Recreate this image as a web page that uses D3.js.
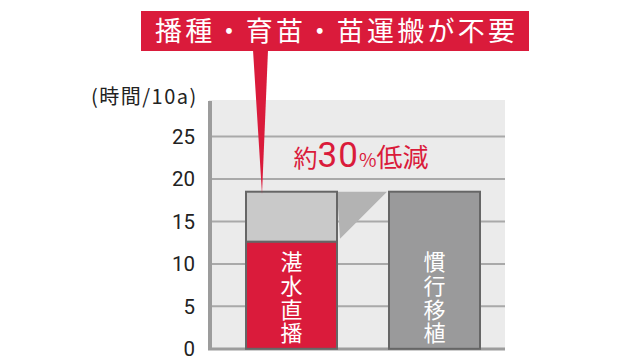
<!DOCTYPE html>
<html><head><meta charset="utf-8">
<script src="https://cdn.jsdelivr.net/npm/d3@7/dist/d3.min.js"></script>
<style>body{margin:0;background:#fff}svg{display:block;font-family:"Noto Sans CJK JP","Noto Sans",sans-serif}</style>
</head><body><svg id="c" width="640" height="360"></svg>
<script>
const categories = ["湛水直播", "慣行移植"];
const totals = [18.5, 18.5];
const actual = [12.6, 18.5];
const ticks = [0, 5, 10, 15, 20, 25];
const unitLabel = "(時間/10a)";
const bannerText = "播種・育苗・苗運搬が不要";
const reduction = ["約", "30", "%", "低減"];

const svg = d3.select("#c");
const red = "#da1b3b";
const y = d3.scaleLinear().domain([0, 29.3]).range([348.8, 100]);
const x = d3.scaleBand().domain(categories).range([246, 480]).paddingInner(0.3636).paddingOuter(0);

// plot background
svg.append("rect").attr("x", 209).attr("y", y(29.3)).attr("width", 296).attr("height", y(0) - y(29.3)).attr("fill", "#ebebeb");
// gridlines
svg.append("g").selectAll("line").data(ticks.filter(d => d > 0)).join("line")
  .attr("x1", 209).attr("x2", 505).attr("y1", d => y(d)).attr("y2", d => y(d))
  .attr("stroke", "#a9a9a9").attr("stroke-width", 2);

// y axis labels
const ax = svg.append("g").attr("transform", "translate(209,0)")
  .call(d3.axisLeft(y).tickValues(ticks).tickSize(0).tickPadding(14));
ax.select(".domain").remove();
ax.selectAll("text").attr("font-size", 20.5).attr("fill", "#222").attr("dy", "0.34em").attr("font-family", "Roboto, 'Noto Sans', sans-serif");

// axis lines
svg.append("line").attr("x1", 210).attr("x2", 210).attr("y1", 101).attr("y2", 350).attr("stroke", "#9c9c9c").attr("stroke-width", 4);
svg.append("line").attr("x1", 208).attr("x2", 505).attr("y1", 349).attr("y2", 349).attr("stroke", "#9c9c9c").attr("stroke-width", 3);

svg.append("text").attr("x", 91).attr("y", 104).attr("font-size", 20).attr("fill", "#222")
  .attr("letter-spacing", 1.5).text(unitLabel);

// connector triangle
const x0 = x(categories[0]) + x.bandwidth(), x1 = x(categories[1]);
svg.append("path").attr("d", `M${x0},${y(totals[0])} L${x1 - 2},${y(totals[0])} L${x0 + 3},${y(actual[0]) - 3} Z`).attr("fill", "#b3b3b3");

// bars
const g = svg.append("g");
categories.forEach((c, i) => {
  if (actual[i] < totals[i]) {
    g.append("rect").attr("x", x(c)).attr("y", y(totals[i])).attr("width", x.bandwidth()).attr("height", y(actual[i]) - y(totals[i]))
      .attr("fill", "#c9c9c9").attr("stroke", "#666").attr("stroke-width", 2);
    g.append("rect").attr("x", x(c)).attr("y", y(actual[i])).attr("width", x.bandwidth()).attr("height", y(0) - y(actual[i]))
      .attr("fill", red).attr("stroke", "#666").attr("stroke-width", 2);
  } else {
    g.append("rect").attr("x", x(c)).attr("y", y(actual[i])).attr("width", x.bandwidth()).attr("height", y(0) - y(actual[i]))
      .attr("fill", "#9a9a9b").attr("stroke", "#666").attr("stroke-width", 2);
  }
  g.append("text")
    .attr("x", x(c) + x.bandwidth() / 2).attr("y", 251)
    .attr("writing-mode", "vertical-rl").style("writing-mode", "vertical-rl")
    .attr("letter-spacing", 1.7)
    .attr("font-size", 22).attr("fill", "#fff").text(c);
});

// reduction label
const rt = svg.append("text").attr("x", 361).attr("y", 167).attr("text-anchor", "middle").attr("fill", red);
rt.append("tspan").attr("font-size", 24).text(reduction[0]);
rt.append("tspan").attr("font-size", 35).attr("font-family", "Roboto, sans-serif").attr("letter-spacing", 1).text(reduction[1]);
rt.append("tspan").attr("font-size", 19).text(reduction[2]);
rt.append("tspan").attr("font-size", 26).text(reduction[3]);

// banner
svg.append("rect").attr("x", 141).attr("y", 11).attr("width", 388).attr("height", 40).attr("fill", red);
svg.append("path").attr("d", `M253,50 L268,50 L262,194 Z`).attr("fill", red);
svg.append("text").attr("x", 155).attr("y", 41).attr("font-size", 27).attr("fill", "#fff")
  .attr("textLength", 360).attr("lengthAdjust", "spacing").text(bannerText);
</script></body></html>
